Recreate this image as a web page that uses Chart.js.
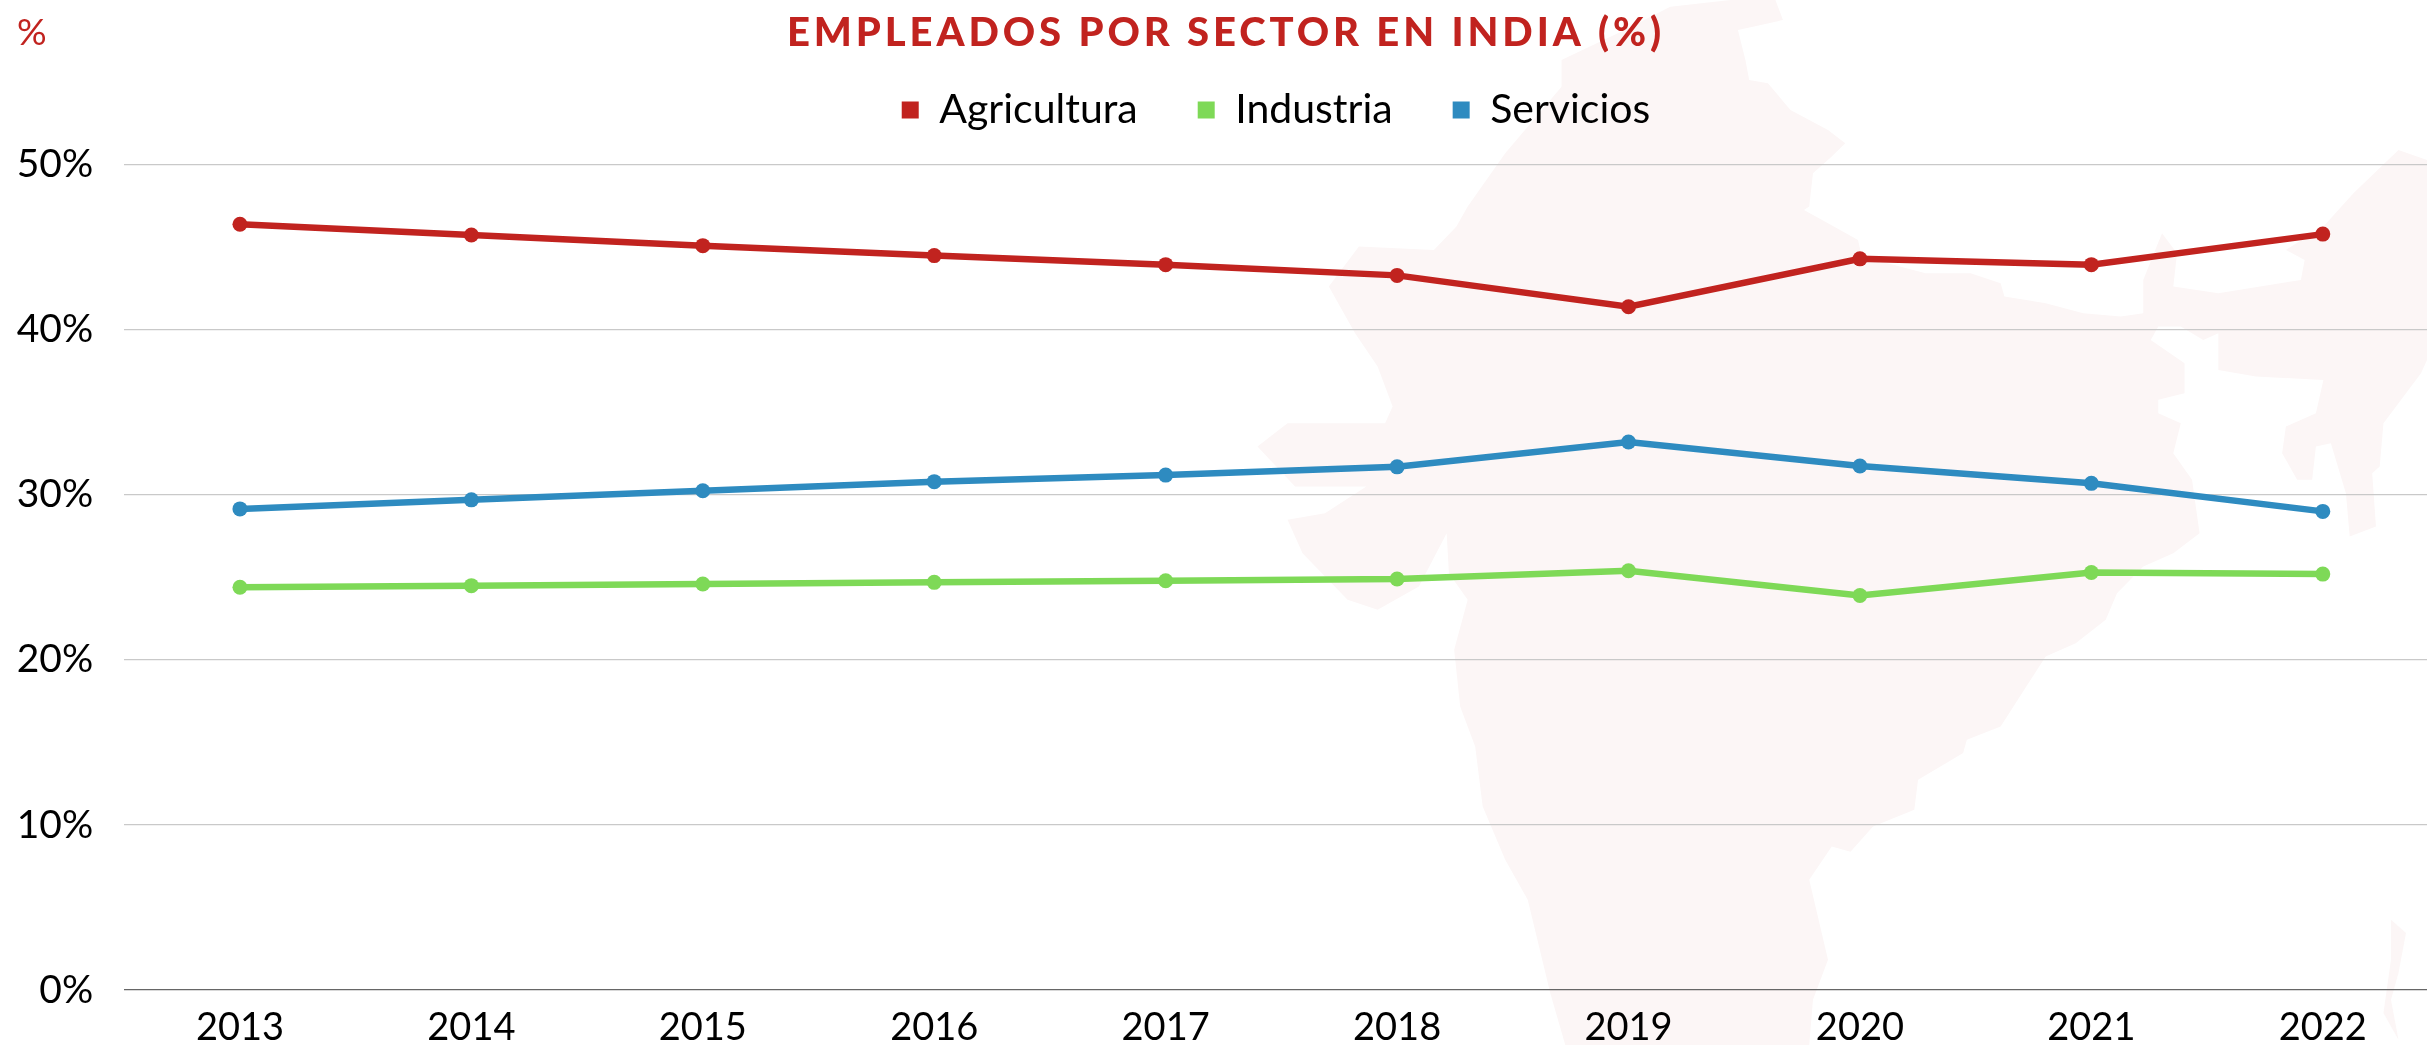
<!DOCTYPE html>
<html lang="es">
<head>
<meta charset="utf-8">
<title>Empleados por sector en India</title>
<style>
html,body{margin:0;padding:0;width:2427px;height:1045px;overflow:hidden;background:#fff}
#map{position:absolute;left:1250px;top:0;width:1177px;height:1045px}
#c{position:absolute;left:0;top:0}
#unit{position:absolute;left:17px;top:8px;font:400 37px Lato,sans-serif;color:#c1231f;line-height:46px}
</style>
</head>
<body>
<svg id="map" viewBox="0 0 1568 1568" preserveAspectRatio="none" aria-hidden="true">
<path fill="#fcf6f6" d="M640 0L700 0L710 30L670 40L650 45L660 90L665 120L690 125L720 165L770 195L793 215L775 235L750 260L745 310L738 315L770 335L810 360L815 385L900 410L960 410L1000 425L1005 445L1060 455L1110 470L1160 475L1190 470L1190 420L1215 350L1235 380L1230 430L1290 440L1400 420L1405 390L1380 375L1430 340L1470 290L1530 225L1568 240L1568 540L1560 560L1510 635L1505 700L1495 710L1500 790L1465 805L1460 740L1440 665L1420 670L1415 720L1395 720L1375 680L1380 640L1420 620L1430 570L1340 565L1290 555L1290 500L1270 510L1240 490L1210 490L1200 510L1245 545L1245 590L1210 600L1210 620L1240 635L1230 680L1255 720L1265 800L1230 830L1190 850L1155 890L1140 930L1100 965L1060 985L1000 1090L955 1110L950 1130L890 1170L885 1215L830 1240L800 1278L775 1270L745 1320L770 1440L750 1500L745 1568L420 1568L400 1490L370 1350L340 1290L310 1210L300 1120L280 1060L272 975L290 900L265 860L262 800L225 880L170 915L130 900L70 830L50 780L100 770L155 730L60 730L10 670L50 635L180 635L190 610L170 550L140 500L105 430L145 370L245 375L275 340L290 310L340 230L370 190L415 130L415 90L490 50L560 10Z"/>
<path fill="#fcf6f6" d="M1520 1380L1540 1400L1530 1460L1520 1500L1530 1560L1510 1520L1520 1440Z"/>
</svg>
<canvas id="c" width="2446" height="1065"></canvas>
<div id="unit">%</div>
<script src="https://cdn.jsdelivr.net/npm/chart.js@4"></script>
<script>
const years = ['2013','2014','2015','2016','2017','2018','2019','2020','2021','2022'];
const agricultura = [46.4,45.75,45.1,44.5,43.95,43.3,41.4,44.3,43.95,45.8];
const industria = [24.4,24.5,24.6,24.7,24.8,24.9,25.4,23.9,25.3,25.2];
const servicios = [29.15,29.7,30.25,30.8,31.2,31.7,33.2,31.75,30.7,29.0];
const RED='#c1231f', GREEN='#7ed957', BLUE='#2e8bc0';
const FONT='Lato, sans-serif';

function ds(label,data,color){
  return {label,data,borderColor:color,backgroundColor:color,borderWidth:6.5,
    pointRadius:7.5,pointBorderWidth:0,pointBackgroundColor:color,tension:0};
}
const tweaks={
  id:'tweaks',
  afterLayout(chart){
    const l=chart.legend;
    l.left+=53; l.right+=53; l.top-=24.3; l.bottom-=24.3;
    const t=chart.titleBlock;
    if(!t._spaced){
      t._spaced=true;
      const d=t.draw;
      t.draw=function(){
        const ctx=this.ctx; ctx.save(); ctx.letterSpacing='3.9px'; d.call(this); ctx.restore();
      };
    }
    t.left+=3; t.right+=3; t.top+=2.8; t.bottom+=2.8;
  }
};
new Chart(document.getElementById('c'),{
  type:'line',
  data:{labels:years,datasets:[ds('Agricultura',agricultura,RED),ds('Industria',industria,GREEN),ds('Servicios',servicios,BLUE)]},
  plugins:[tweaks],
  options:{
    responsive:false,animation:false,
    layout:{padding:{left:0,right:0,top:5.8,bottom:0}},
    plugins:{
      tooltip:{enabled:false},
      title:{display:true,text:'EMPLEADOS POR SECTOR EN INDIA (%)',color:RED,
        font:{family:FONT,size:40,weight:'900'},padding:{top:0,bottom:0}},
      legend:{display:true,position:'top',
        labels:{boxWidth:17,boxHeight:17,padding:60,color:'#000',font:{family:FONT,size:41,weight:'400'},
          generateLabels(chart){
            return chart.data.datasets.map((d,i)=>({text:d.label,fillStyle:d.backgroundColor,strokeStyle:d.backgroundColor,lineWidth:0,hidden:false,datasetIndex:i,fontColor:'#000'}));
          }}}
    },
    scales:{
      x:{offset:true,grid:{display:false,drawTicks:false},border:{display:false},
        ticks:{color:'#000',font:{family:FONT,size:38,weight:'400'},padding:14.7,maxRotation:0,autoSkip:false}},
      y:{min:0,max:50,afterFit(s){s.width=124.25;},
        grid:{drawTicks:false,lineWidth:1.3,color:c=>c.tick.value===0?'#666666':'#c9c9c9'},border:{display:false},
        ticks:{stepSize:10,color:'#000',font:{family:FONT,size:39,weight:'400'},padding:31,callback:v=>v+'%'}}
    }
  }
});
</script>
</body>
</html>
